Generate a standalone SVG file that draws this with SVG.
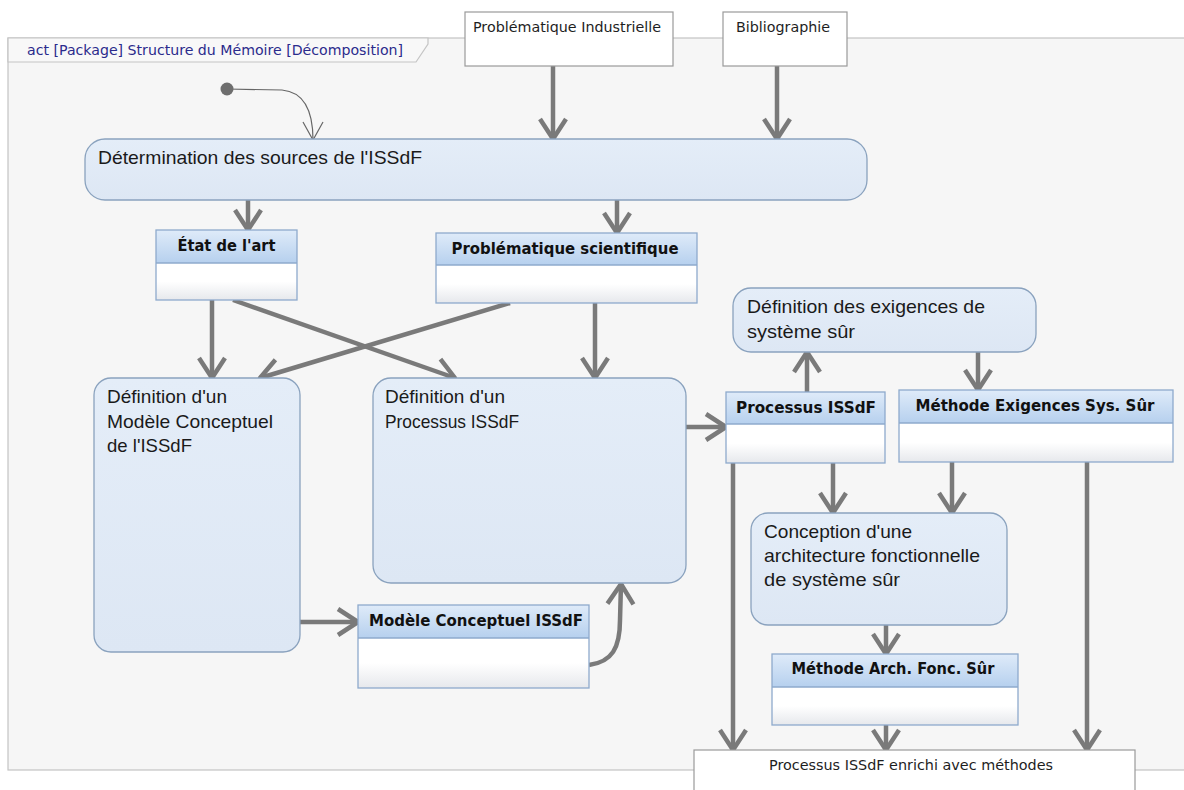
<svg xmlns="http://www.w3.org/2000/svg" width="1184" height="790" viewBox="0 0 1184 790">
  <defs>
    <style>
      .frame { fill: #f6f6f6; stroke: #c4c4c4; stroke-width: 1.2; }
      .tab { fill: #f8f8f8; stroke: #c4c4c4; stroke-width: 1.2; }
      .title { font-family: "DejaVu Sans", sans-serif; font-size: 14px; fill: #2b2b8c; }
      .obj { fill: #ffffff; stroke: #9a9a9a; stroke-width: 1.2; }
      .objtxt { font-family: "DejaVu Sans", sans-serif; font-size: 14px; fill: #1e1e1e; }
      .act { fill: url(#actFill); stroke: #8aa2be; stroke-width: 1.3; }
      .acttxt { font-family: "Liberation Sans", Arial, sans-serif; font-size: 19px; fill: #1a1a1a; }
      .cls { stroke: #8eaacc; stroke-width: 1.3; }
      .hdr { fill: url(#hdrFill); }
      .body { fill: url(#bodyFill); }
      .hdrtxt { font-family: "DejaVu Sans", sans-serif; font-size: 15px; font-weight: bold; fill: #111111; }
      .flow { fill: none; stroke: #7a7a7a; stroke-width: 4.5; marker-end: url(#arrow); }
      .thin { fill: none; stroke: #666666; stroke-width: 1.2; marker-end: url(#arrowThin); }
    </style>
    <linearGradient id="actFill" x1="0" y1="0" x2="0" y2="1">
      <stop offset="0" stop-color="#e4edf8"/>
      <stop offset="1" stop-color="#dde7f4"/>
    </linearGradient>
    <linearGradient id="hdrFill" x1="0" y1="0" x2="0" y2="1">
      <stop offset="0" stop-color="#dfebf9"/>
      <stop offset="1" stop-color="#b6d0ee"/>
    </linearGradient>
    <linearGradient id="bodyFill" x1="0" y1="0" x2="0" y2="1">
      <stop offset="0" stop-color="#ffffff"/>
      <stop offset="0.5" stop-color="#ffffff"/>
      <stop offset="1" stop-color="#e6e8ec"/>
    </linearGradient>
    <marker id="arrow" viewBox="-24 -16 28 32" refX="0" refY="0" markerWidth="28" markerHeight="32" markerUnits="userSpaceOnUse" orient="auto">
      <path d="M-20,-13 L0,0 L-20,13" fill="none" stroke="#7a7a7a" stroke-width="4.5" stroke-linejoin="round"/>
    </marker>
    <marker id="arrowThin" viewBox="-20 -12 22 24" refX="0" refY="0" markerWidth="22" markerHeight="24" markerUnits="userSpaceOnUse" orient="auto">
      <path d="M-18,-10 L0,0 L-18,10" fill="none" stroke="#666666" stroke-width="1.2"/>
    </marker>
  </defs>

  <rect x="0" y="0" width="1184" height="790" fill="#ffffff"/>

  <!-- activity frame -->
  <g id="frame">
    <rect class="frame" x="8" y="38" width="1190" height="732"/>
    <path class="tab" d="M8,38 L428,38 L428,44 L416,62 L8,62 Z"/>
    <text class="title" x="27" y="55" textLength="376" lengthAdjust="spacingAndGlyphs">act [Package] Structure du Mémoire [Décomposition]</text>
  </g>

  <!-- connectors -->
  <g id="connectors">
    <path class="thin" d="M227,89 L282,90 C304,92 313,110 313,140"/>
    <line class="flow" x1="553" y1="66" x2="553" y2="139"/>
    <line class="flow" x1="777" y1="66" x2="777" y2="139"/>
    <line class="flow" x1="248" y1="200" x2="248" y2="230"/>
    <line class="flow" x1="617" y1="200" x2="617" y2="233"/>
    <line class="flow" x1="212" y1="300" x2="212" y2="378"/>
    <line class="flow" x1="233" y1="300" x2="455" y2="378"/>
    <line class="flow" x1="510" y1="303" x2="260" y2="378"/>
    <line class="flow" x1="595" y1="303" x2="595" y2="378"/>
    <line class="flow" x1="300" y1="622" x2="358" y2="622"/>
    <path class="flow" d="M589,665 C612,662 620,648 620,620 L621,584"/>
    <line class="flow" x1="686" y1="427" x2="726" y2="427"/>
    <line class="flow" x1="807" y1="392" x2="807" y2="352"/>
    <line class="flow" x1="978" y1="352" x2="978" y2="390"/>
    <line class="flow" x1="833" y1="463" x2="833" y2="513"/>
    <line class="flow" x1="952" y1="462" x2="952" y2="513"/>
    <line class="flow" x1="886" y1="625" x2="886" y2="654"/>
    <line class="flow" x1="733" y1="463" x2="733" y2="750"/>
    <line class="flow" x1="886" y1="725" x2="886" y2="750"/>
    <line class="flow" x1="1087" y1="462" x2="1087" y2="750"/>
  </g>

  <!-- initial node -->
  <g id="initial">
    <circle cx="227" cy="89" r="6.5" fill="#6e6e6e"/>
  </g>

  <!-- source objects -->
  <g id="prob-industrielle">
    <rect class="obj" x="465" y="12" width="208" height="54"/>
    <text class="objtxt" x="473" y="32" textLength="188" lengthAdjust="spacingAndGlyphs">Problématique Industrielle</text>
  </g>
  <g id="bibliographie">
    <rect class="obj" x="723" y="12" width="124" height="54"/>
    <text class="objtxt" x="736" y="32" textLength="94" lengthAdjust="spacingAndGlyphs">Bibliographie</text>
  </g>

  <!-- actions -->
  <g id="determination">
    <rect class="act" x="85" y="139" width="782" height="61" rx="20" ry="20"/>
    <text class="acttxt" x="98" y="164" textLength="324" lengthAdjust="spacingAndGlyphs">Détermination des sources de l'ISSdF</text>
  </g>

  <g id="etat-art">
    <rect class="hdr" x="156" y="230" width="141" height="33"/>
    <rect class="body" x="156" y="263" width="141" height="37"/>
    <rect class="cls" fill="none" x="156" y="230" width="141" height="70"/>
    <line class="cls" x1="156" y1="263" x2="297" y2="263"/>
    <text class="hdrtxt" x="226.5" y="251" text-anchor="middle" textLength="98" lengthAdjust="spacingAndGlyphs">État de l'art</text>
  </g>

  <g id="prob-scientifique">
    <rect class="hdr" x="436" y="233" width="261" height="32"/>
    <rect class="body" x="436" y="265" width="261" height="38"/>
    <rect class="cls" fill="none" x="436" y="233" width="261" height="70"/>
    <line class="cls" x1="436" y1="265" x2="697" y2="265"/>
    <text class="hdrtxt" x="565" y="254" text-anchor="middle" textLength="227" lengthAdjust="spacingAndGlyphs">Problématique scientifique</text>
  </g>

  <g id="def-modele">
    <rect class="act" x="94" y="378" width="206" height="274" rx="17" ry="17"/>
    <text class="acttxt" x="107" y="403" textLength="120" lengthAdjust="spacingAndGlyphs">Définition d'un</text>
    <text class="acttxt" x="107" y="428" textLength="166" lengthAdjust="spacingAndGlyphs">Modèle Conceptuel</text>
    <text class="acttxt" x="107" y="452" textLength="85" lengthAdjust="spacingAndGlyphs">de l'ISSdF</text>
  </g>

  <g id="def-processus">
    <rect class="act" x="373" y="378" width="313" height="205" rx="18" ry="18"/>
    <text class="acttxt" x="385" y="403" textLength="120" lengthAdjust="spacingAndGlyphs">Définition d'un</text>
    <text class="acttxt" x="385" y="428" textLength="134" lengthAdjust="spacingAndGlyphs">Processus ISSdF</text>
  </g>

  <g id="modele-conceptuel">
    <rect class="hdr" x="358" y="605" width="231" height="33"/>
    <rect class="body" x="358" y="638" width="231" height="50"/>
    <rect class="cls" fill="none" x="358" y="605" width="231" height="83"/>
    <line class="cls" x1="358" y1="638" x2="589" y2="638"/>
    <text class="hdrtxt" x="476" y="626" text-anchor="middle" textLength="214" lengthAdjust="spacingAndGlyphs">Modèle Conceptuel ISSdF</text>
  </g>

  <g id="def-exigences">
    <rect class="act" x="733" y="288" width="303" height="64" rx="18" ry="18"/>
    <text class="acttxt" x="747" y="313" textLength="238" lengthAdjust="spacingAndGlyphs">Définition des exigences de</text>
    <text class="acttxt" x="747" y="338" textLength="108" lengthAdjust="spacingAndGlyphs">système sûr</text>
  </g>

  <g id="processus-issdf">
    <rect class="hdr" x="726" y="392" width="159" height="32"/>
    <rect class="body" x="726" y="424" width="159" height="39"/>
    <rect class="cls" fill="none" x="726" y="392" width="159" height="71"/>
    <line class="cls" x1="726" y1="424" x2="885" y2="424"/>
    <text class="hdrtxt" x="806" y="413" text-anchor="middle" textLength="140" lengthAdjust="spacingAndGlyphs">Processus ISSdF</text>
  </g>

  <g id="methode-exigences">
    <rect class="hdr" x="899" y="390" width="274" height="33"/>
    <rect class="body" x="899" y="423" width="274" height="39"/>
    <rect class="cls" fill="none" x="899" y="390" width="274" height="72"/>
    <line class="cls" x1="899" y1="423" x2="1173" y2="423"/>
    <text class="hdrtxt" x="1035" y="411" text-anchor="middle" textLength="239" lengthAdjust="spacingAndGlyphs">Méthode Exigences Sys. Sûr</text>
  </g>

  <g id="conception">
    <rect class="act" x="751" y="513" width="256" height="112" rx="17" ry="17"/>
    <text class="acttxt" x="764" y="538" textLength="148" lengthAdjust="spacingAndGlyphs">Conception d'une</text>
    <text class="acttxt" x="764" y="562" textLength="216" lengthAdjust="spacingAndGlyphs">architecture fonctionnelle</text>
    <text class="acttxt" x="764" y="586" textLength="136" lengthAdjust="spacingAndGlyphs">de système sûr</text>
  </g>

  <g id="methode-arch">
    <rect class="hdr" x="772" y="654" width="246" height="33"/>
    <rect class="body" x="772" y="687" width="246" height="38"/>
    <rect class="cls" fill="none" x="772" y="654" width="246" height="71"/>
    <line class="cls" x1="772" y1="687" x2="1018" y2="687"/>
    <text class="hdrtxt" x="893" y="674" text-anchor="middle" textLength="203" lengthAdjust="spacingAndGlyphs">Méthode Arch. Fonc. Sûr</text>
  </g>

  <g id="processus-enrichi">
    <rect class="obj" x="694" y="750" width="441" height="50"/>
    <text class="objtxt" x="769" y="770" textLength="284" lengthAdjust="spacingAndGlyphs">Processus ISSdF enrichi avec méthodes</text>
  </g>
</svg>
